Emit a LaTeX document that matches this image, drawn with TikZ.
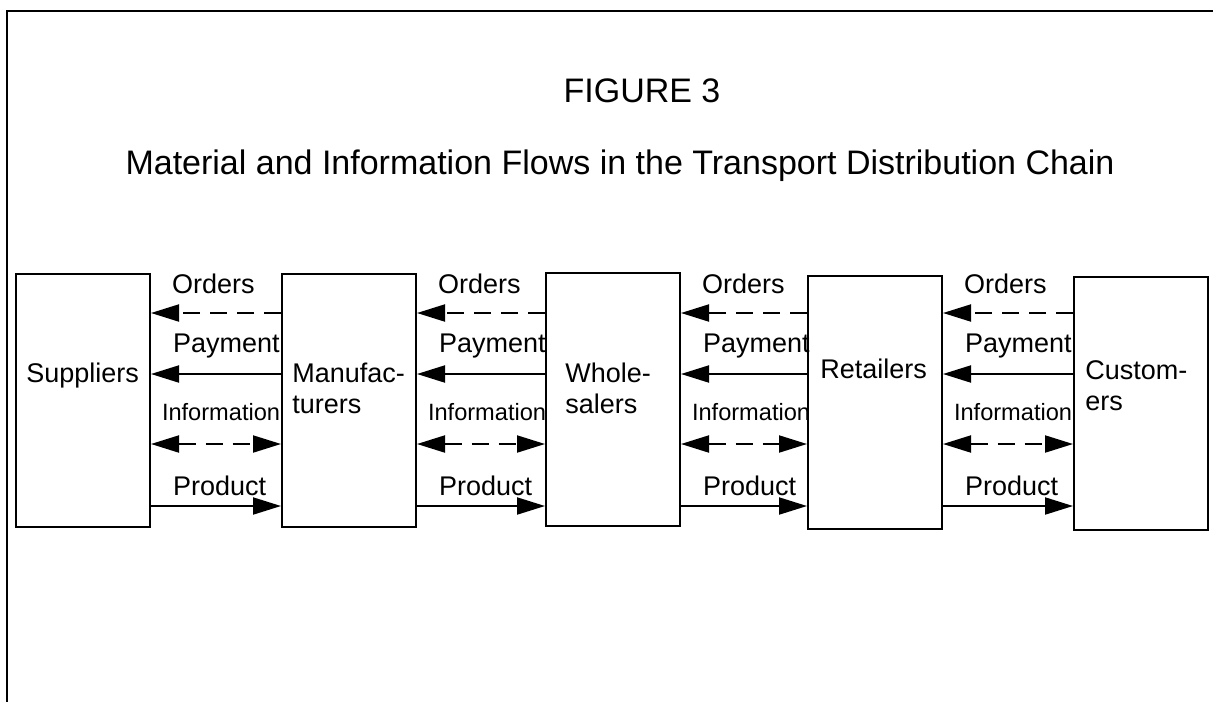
\documentclass[tikz,border=0pt]{standalone}
\usepackage{fontspec}
\setmainfont{Liberation Sans}
\usetikzlibrary{calc,positioning,arrows.meta}

\begin{document}
\begin{tikzpicture}[x=0.5pt, y=-0.5pt,
    box/.style={draw,line width=1pt,anchor=north west,minimum width=67pt,minimum height=126.5pt,inner sep=0pt},
    boxtxt/.style={anchor=north west,align=left,inner sep=0pt,font=\fontsize{13.5}{15.5}\selectfont},
    head/.style={anchor=base,inner sep=0pt,font=\fontsize{17}{20}\selectfont},
    lab/.style={anchor=base west,inner sep=0pt,font=\fontsize{13.5}{16}\selectfont},
    ordlab/.style={lab,pos=1,xshift=10pt,yshift=10pt},
    paylab/.style={lab,pos=1,xshift=10.5pt,yshift=11pt},
    inflab/.style={lab,pos=0,xshift=5pt,yshift=12pt,font=\fontsize{11.8}{14}\selectfont},
    prdlab/.style={lab,pos=0,xshift=10.5pt,yshift=5.5pt},
    tip/.style={-{Triangle[length=14pt,width=8.5pt]}},
    flow/.style={line width=1pt,tip},
    ordarr/.style={flow,dash pattern=on 8.5pt off 5pt},
    infarr/.style={line width=1pt,{Triangle[length=14pt,width=8.5pt]}-{Triangle[length=14pt,width=8.5pt]},dash pattern=on 8.5pt off 5pt}]
  \useasboundingbox (0,0) rectangle (1213,702);
  \draw[line width=1pt] (1213,11) -- (7,11) -- (7,702);

  \node[head] (fig) at (642,102) {FIGURE 3};
  \node[head] (title) at (620,174) {Material and Information Flows in the Transport Distribution Chain};

  \node[box] (sup) at (15,273) {};
  \node[box] (man) at (281,273) {};
  \node[box] (who) at (545,272) {};
  \node[box] (ret) at (807,275) {};
  \node[box] (cus) at (1073,276) {};

  \node[boxtxt] (supt) at (26,362.5) {Suppliers};
  \node[boxtxt] (mant) at (292,362.5) {Manufac-\\turers};
  \node[boxtxt] (whot) at (565,362.5) {Whole-\\salers};
  \node[boxtxt] (rett) at (820,358.5) {Retailers};
  \node[boxtxt] (cust) at (1085,360.5) {Custom-\\ers};

  \coordinate (ord) at (0,313);
  \coordinate (pay) at (0,374);
  \coordinate (inf) at (0,444);
  \coordinate (prd) at (0,506);

  % suppliers - manufacturers
  \draw[ordarr] (man.west |- ord) -- node[ordlab] (o1) {Orders} (sup.east |- ord);
  \draw[flow] (man.west |- pay) -- node[paylab] (p1) {Payment} (sup.east |- pay);
  \draw[infarr] (sup.east |- inf) -- node[inflab] (i1) {Information} (man.west |- inf);
  \draw[flow] (sup.east |- prd) -- node[prdlab] (r1) {Product} (man.west |- prd);
  % manufacturers - wholesalers
  \draw[ordarr] (who.west |- ord) -- node[ordlab] (o2) {Orders} (man.east |- ord);
  \draw[flow] (who.west |- pay) -- node[paylab] (p2) {Payment} (man.east |- pay);
  \draw[infarr] (man.east |- inf) -- node[inflab] (i2) {Information} (who.west |- inf);
  \draw[flow] (man.east |- prd) -- node[prdlab] (r2) {Product} (who.west |- prd);
  % wholesalers - retailers
  \draw[ordarr] (ret.west |- ord) -- node[ordlab] (o3) {Orders} (who.east |- ord);
  \draw[flow] (ret.west |- pay) -- node[paylab] (p3) {Payment} (who.east |- pay);
  \draw[infarr] (who.east |- inf) -- node[inflab] (i3) {Information} (ret.west |- inf);
  \draw[flow] (who.east |- prd) -- node[prdlab] (r3) {Product} (ret.west |- prd);
  % retailers - customers
  \draw[ordarr] (cus.west |- ord) -- node[ordlab] (o4) {Orders} (ret.east |- ord);
  \draw[flow] (cus.west |- pay) -- node[paylab] (p4) {Payment} (ret.east |- pay);
  \draw[infarr] (ret.east |- inf) -- node[inflab] (i4) {Information} (cus.west |- inf);
  \draw[flow] (ret.east |- prd) -- node[prdlab] (r4) {Product} (cus.west |- prd);
\end{tikzpicture}
\end{document}
